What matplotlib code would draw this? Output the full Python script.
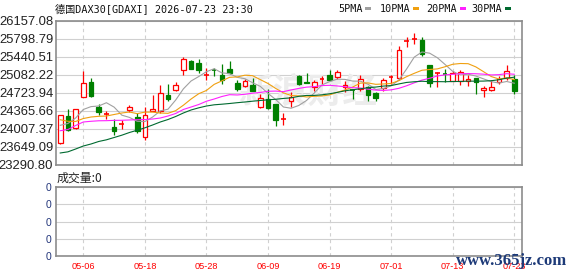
"""DAX30 daily candles with 5/10/20/30 day moving averages (Sina-style quote chart)."""
import matplotlib
matplotlib.use("Agg")
import matplotlib.pyplot as plt
import pandas as pd
from matplotlib.patches import Rectangle

plt.rcParams['font.family'] = ['Liberation Sans', 'Noto Sans CJK SC', 'DejaVu Sans']

# daily OHLC, oldest first
opens = [23713, 24254, 24021, 24644, 24937, 24445, 24290, 24047, 24091, 24374,
         24234, 23836, 24366, 24354, 24672, 24772, 25182, 25355, 25309, 25072,
         25176, 25082, 25202, 24917, 24851, 24883, 24433, 24604, 24499, 24196,
         24553, 25062, 24937, 24838, 24993, 25070, 25042, 24838, 24778, 24803,
         24838, 24718, 24818, 25022, 25017, 25753, 25793, 25767, 25281, 25106,
         25106, 24963, 24951, 24951, 25017, 24772, 24772, 24931, 25017, 24997]
highs = [24290, 24405, 24405, 25162, 25010, 24493, 24354, 24200, 24186, 24473,
         24320, 24433, 24672, 24871, 24897, 24931, 25435, 25375, 25395, 25216,
         25216, 25295, 25361, 24983, 25003, 25017, 24698, 24803, 24499, 24320,
         24738, 25076, 25116, 24977, 25062, 25170, 25182, 24951, 24803, 25070,
         24863, 24728, 25017, 25082, 25647, 25827, 25912, 25827, 25281, 25136,
         25202, 25146, 25182, 25082, 25017, 24851, 24983, 25056, 25269, 25070]
lows = [23700, 23971, 24001, 24632, 24644, 24286, 24200, 23888, 24007, 24340,
        23922, 23788, 24366, 24320, 24553, 24752, 25070, 25186, 25116, 24983,
        25050, 24897, 25096, 24764, 24831, 24752, 24419, 24405, 24055, 24075,
        24433, 24883, 24911, 24764, 24897, 24967, 24997, 24738, 24599, 24764,
        24553, 24553, 24764, 24903, 24983, 25628, 25693, 25460, 24831, 24837,
        24937, 24957, 24871, 24851, 24704, 24644, 24752, 24897, 24983, 24704]
closes = [24280, 23987, 24393, 24911, 24664, 24340, 24314, 23956, 24111, 24439,
          23956, 24286, 24405, 24724, 24604, 24871, 25395, 25190, 25170, 25086,
          25164, 24983, 25116, 24798, 24951, 24764, 24618, 24419, 24187, 24210,
          24638, 24897, 24911, 24931, 25009, 24977, 25142, 24883, 24766, 24997,
          24672, 24618, 24983, 25036, 25568, 25767, 25807, 25494, 24917, 25116,
          25096, 25116, 25136, 24997, 24931, 24818, 24838, 24997, 25150, 24764]

# moving-average values before the window is full (they use earlier days not shown)
ma5_head = [24075, 24111, 24220, 24390]
ma10_head = [24186, 24155, 24151, 24210, 24240, 24254, 24260, 24290, 24320]
ma20_head = [23967, 23991, 24071, 24141, 24155, 24165, 24167, 24173, 24175, 24181,
             24186, 24190, 24200, 24220, 24260, 24310, 24390, 24439, 24489]
ma30_head = [23524, 23547, 23603, 23663, 23703, 23753, 23786, 23832, 23878, 23932,
             23977, 24025, 24081, 24141, 24190, 24250, 24320, 24380, 24423, 24459,
             24483, 24495, 24509, 24525, 24539, 24555, 24569, 24583, 24593]

tick_idx = [3, 11, 19, 27, 35, 43, 51, 59]
tick_labels = ['05-06', '05-18', '05-28', '06-09', '06-19', '07-01', '07-13', '07-23']
price_ticks = [23290.80, 23649.09, 24007.37, 24365.66, 24723.94,
               25082.22, 25440.51, 25798.79, 26157.08]

ma_names = ['5PMA', '10PMA', '20PMA', '30PMA']
ma_colors = ['#a0a0a0', '#f0a010', '#ff20ff', '#006a30']

RED = '#ff0000'
GREEN = '#008000'
GRID = '#d0d0d0'
BORDER = '#8c8c8c'

W, H = 578, 276
fig = plt.figure(figsize=(W / 100, H / 100), dpi=100)
fig.patch.set_facecolor('white')


def box(x0, x1, y0, y1):
    return [x0 / W, 1 - y1 / H, (x1 - x0) / W, (y1 - y0) / H]


ax = fig.add_axes(box(56, 522, 20.7, 164.7))
axv = fig.add_axes(box(56, 522, 187, 256))

# moving averages
s = pd.Series(closes)
mas = []
for n, head in zip([5, 10, 20, 30], [ma5_head, ma10_head, ma20_head, ma30_head]):
    mas.append(head + s.rolling(n).mean().iloc[n - 1:].tolist())

# candles
bw = 0.6
for i, (o, h, l, c) in enumerate(zip(opens, highs, lows, closes)):
    up = c >= o
    col = RED if up else GREEN
    ax.vlines(i, l, h, color=col, lw=0.9, zorder=2)
    lo, hi = min(o, c), max(o, c)
    if hi - lo < 25:
        ax.hlines((o + c) / 2, i - bw / 2, i + bw / 2, color=col, lw=1.2, zorder=2.1)
    else:
        ax.add_patch(Rectangle((i - bw / 2, lo), bw, hi - lo,
                               facecolor='white' if up else col,
                               edgecolor=col, lw=0.9, zorder=2.1))

for vals, col in zip(mas, ma_colors):
    ax.plot(range(len(vals)), vals, color=col, lw=0.8, zorder=3)

# faint site watermark
ax.text(0.54, 0.5, '新浪财经', transform=ax.transAxes, fontsize=25,
        color='#ececec', ha='center', va='center', zorder=0.8,
        family=['Noto Sans CJK SC'], fontweight='bold')

for a in (ax, axv):
    a.set_xlim(-0.55, 60.0)
    a.set_xticks(tick_idx)
    a.tick_params(length=0)
    for sp in a.spines.values():
        sp.set_color(BORDER)
        sp.set_linewidth(1.2)
    a.set_axisbelow(True)
    a.grid(axis='y', color=GRID, lw=0.8, ls='-')
    a.grid(axis='x', color=GRID, lw=0.8, ls=(0, (3, 3)))

ax.set_ylim(price_ticks[0], price_ticks[-1])
ax.set_yticks(price_ticks)
ax.set_yticklabels([f'{v:.2f}' for v in price_ticks], fontsize=9.4, color='#222222')
ax.tick_params(axis='y', pad=2)
ax.set_xticklabels([])

axv.set_ylim(0, 4)
axv.set_yticks([0, 1, 2, 3, 4])
axv.set_yticklabels(['0'] * 5, fontsize=7.5, color='#22357a')
axv.tick_params(axis='y', pad=3)
axv.set_xticklabels(tick_labels, fontsize=6.6, color=RED)
axv.tick_params(axis='x', pad=4)

mono = ['DejaVu Sans Mono', 'Noto Sans CJK SC']
fig.text(55 / W, 1 - 8.5 / H, '德国DAX30[GDAXI] 2026-07-23 23:30', family=mono,
         fontsize=7.3, va='center', ha='left', color='#111111')
fig.text(57 / W, 1 - 178 / H, '成交量:0', fontsize=8.6, va='center', ha='left',
         color='#222222', family=['Noto Sans CJK SC'])

# legend row
label_x = [338, 380, 425.7, 471.7]
swatch_x = [365, 413, 459.5, 505]
for name, col, lx, sx in zip(ma_names, ma_colors, label_x, swatch_x):
    fig.text(lx / W, 1 - 8.5 / H, name, family=mono, fontsize=7.3,
             va='center', ha='left', color='#111111')
    fig.add_artist(Rectangle((sx / W, 1 - 10 / H), 6 / W, 3 / H,
                             transform=fig.transFigure, facecolor=col, edgecolor='none'))

fig.text(456 / W, 1 - 261 / H, 'www.365jz.com', family=['Liberation Serif'],
         fontsize=12, fontweight='bold', color='#1d3a78', va='center', ha='left')

fig.savefig('out.png', dpi=100, facecolor='white')
